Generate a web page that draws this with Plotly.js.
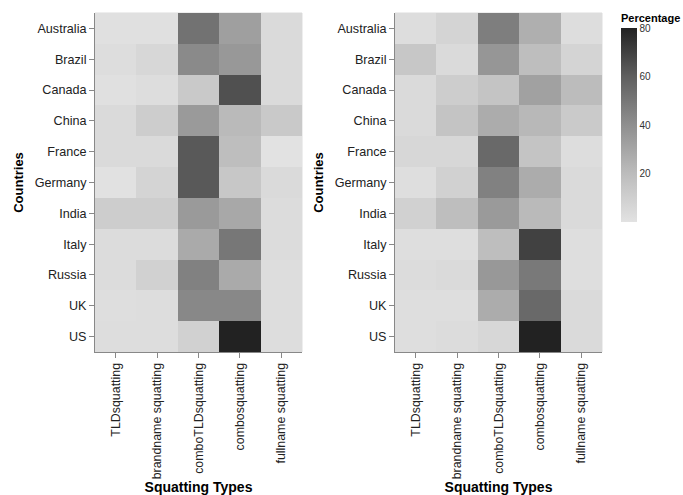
<!DOCTYPE html>
<html>
<head>
<meta charset="utf-8">
<script src="https://cdn.plot.ly/plotly-3.0.1.min.js"></script>
<style>html,body{margin:0;padding:0;background:#fff;}#chart{width:683px;height:495px;}</style>
</head>
<body>
<div id="chart"></div>
<script>
var countries = ["Australia","Brazil","Canada","China","France","Germany","India","Italy","Russia","UK","US"];
var types = ["TLDsquatting","brandname squatting","comboTLDsquatting","combosquatting","fullname squatting"];

// Left panel values (rows = countries, cols = types)
var leftValues = [
  [1, 1, 52, 33, 4],
  [2.5, 6, 42, 36, 4],
  [1, 2.5, 13, 65, 4],
  [4, 11, 35, 21, 13],
  [4, 4, 62, 19, 0],
  [0.5, 7.5, 62, 14, 4],
  [11, 11, 35, 29, 3],
  [3, 3, 28, 50, 3],
  [3, 9, 46, 28, 2.5],
  [2, 2.5, 43, 43, 2.5],
  [2.5, 2.5, 9, 80, 2.5]
];
// Right panel values
var rightValues = [
  [2.5, 7.5, 47, 26, 2.5],
  [14, 4, 37, 19, 7.5],
  [4, 11, 16, 32, 20],
  [4, 16, 27, 22, 12.5],
  [6, 6, 56, 16, 2.5],
  [2, 9, 46, 27, 4],
  [9, 19, 35, 21, 4],
  [2, 2, 19, 70, 2],
  [3, 4, 36, 49, 2],
  [2, 2, 27, 56, 4],
  [2, 3, 6, 80, 4]
];
var colorTicks = [20, 40, 60, 80];

var greys = [[0,'#e2e2e2'],[0.25,'#bcbcbc'],[0.5,'#8f8f8f'],[0.75,'#5f5f5f'],[1,'#222222']];
var FONT = 'Liberation Sans, Arial, sans-serif';

var common = {
  type: 'heatmap', x: types, y: countries, colorscale: greys, zmin: 0, zmax: 80,
  hoverongaps: false
};
var t1 = Object.assign({}, common, {z: leftValues, xaxis: 'x', yaxis: 'y', showscale: false});
var t2 = Object.assign({}, common, {z: rightValues, xaxis: 'x2', yaxis: 'y2', showscale: true,
  colorbar: {
    x: 621/683, xanchor: 'left', y: 1 - 28/495, yanchor: 'top',
    len: 194/495, lenmode: 'fraction', thickness: 16, outlinewidth: 0,
    tickvals: colorTicks, ticks: '', ticklen: 0, xpad: 0, ypad: 0,
    tickfont: {family: FONT, size: 10, color: '#333'}
  }
});

function xax(domain) {
  return {
    domain: domain, type: 'category', categoryarray: types, categoryorder: 'array',
    tickangle: -90, ticks: 'outside', ticklen: 5, tickcolor: '#888', showline: true, linecolor: '#888',
    showgrid: false, zeroline: false, automargin: false,
    tickfont: {family: FONT, size: 12.4, color: '#222'},
    title: {text: 'Squatting Types', font: {family: FONT, size: 14, color: '#000', weight: 'bold'}, standoff: 6}
  };
}
function yax(domain, anchor) {
  return {
    domain: domain, anchor: anchor, type: 'category', categoryarray: countries, categoryorder: 'array',
    autorange: 'reversed', ticks: 'outside', ticklen: 5, tickcolor: '#888', showline: true, linecolor: '#888',
    showgrid: false, zeroline: false, automargin: false,
    tickfont: {family: FONT, size: 12.6, color: '#222'},
    title: {text: 'Countries', font: {family: FONT, size: 13, color: '#000', weight: 'bold'}, standoff: 8}
  };
}
var yDom = [143/495, 482/495];
var layout = {
  width: 683, height: 495, margin: {l: 0, r: 0, t: 0, b: 0},
  paper_bgcolor: '#fff', plot_bgcolor: '#fff',
  xaxis: xax([95/683, 302/683]),
  yaxis: yax(yDom, 'x'),
  xaxis2: Object.assign(xax([395/683, 602/683]), {anchor: 'y2'}),
  yaxis2: yax(yDom, 'x2'),
  annotations: [{
    text: '<b>Percentage</b>', xref: 'paper', yref: 'paper', x: 621/683, y: 1 - 18/495,
    xanchor: 'left', yanchor: 'middle', showarrow: false, xshift: -2, font: {family: FONT, size: 11, color: '#000'}
  }],
  shapes: [
    {type: 'rect', xref: 'paper', yref: 'paper', x0: 95/683, x1: 302/683, y0: yDom[0], y1: yDom[1], line: {color: '#ddd', width: 1}, layer: 'below'},
    {type: 'rect', xref: 'paper', yref: 'paper', x0: 395/683, x1: 602/683, y0: yDom[0], y1: yDom[1], line: {color: '#ddd', width: 1}, layer: 'below'}
  ]
};
Plotly.newPlot('chart', [t1, t2], layout, {displayModeBar: false, staticPlot: true});
</script>
</body>
</html>
